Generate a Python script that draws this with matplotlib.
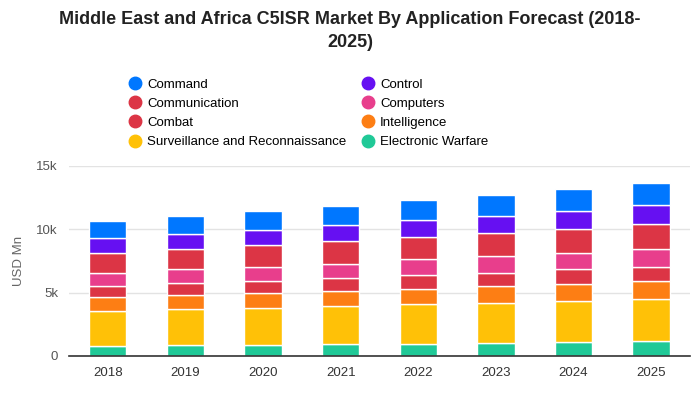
import matplotlib
matplotlib.use('Agg')
import matplotlib.pyplot as plt
from matplotlib.lines import Line2D
import numpy as np

plt.rcParams['font.family'] = ['Liberation Sans', 'DejaVu Sans']

years = ['2018', '2019', '2020', '2021', '2022', '2023', '2024', '2025']

# values in USD Mn, stacked from bottom to top
electronic_warfare = [790, 870, 870, 950, 950, 1030, 1110, 1190]
surveillance = [2780, 2860, 2940, 3020, 3180, 3180, 3260, 3330]
intelligence = [1110, 1110, 1190, 1190, 1190, 1350, 1340, 1430]
combat = [880, 950, 950, 1030, 1110, 1030, 1120, 1110]
computers = [1030, 1040, 1110, 1110, 1190, 1270, 1340, 1350]
communication = [1510, 1580, 1670, 1750, 1750, 1820, 1830, 1990]
control = [1190, 1190, 1190, 1270, 1340, 1350, 1430, 1500]
command = [1370, 1460, 1540, 1530, 1620, 1690, 1770, 1780]

series = [
    ('Electronic Warfare', electronic_warfare, '#20C997'),
    ('Surveillance and Reconnaissance', surveillance, '#FFC107'),
    ('Intelligence', intelligence, '#FD7E14'),
    ('Combat', combat, '#DC3545'),
    ('Computers', computers, '#E83E8C'),
    ('Communication', communication, '#DC3545'),
    ('Control', control, '#6610F2'),
    ('Command', command, '#0077FF'),
]

fig = plt.figure(figsize=(7, 4), dpi=100)
ax = fig.add_axes([0.0986, 0.11, 0.887, 0.475])

x = np.arange(len(years))
bottom = np.zeros(len(years))
colors = {}
for name, vals, col in series:
    ax.bar(x, vals, bottom=bottom, width=0.48, color=col, edgecolor='white', linewidth=1, zorder=3)
    bottom += np.array(vals)
    colors[name] = col

ax.set_xlim(-0.5, 7.5)
ax.set_ylim(0, 15000)
ax.set_xticks(x)
ax.set_xticklabels(years, fontsize=9.5, color='#333333')
ax.set_yticks([0, 5000, 10000, 15000])
ax.set_yticklabels(['0', '5k', '10k', '15k'], fontsize=9.5, color='#555555')
ax.tick_params(length=0, pad=8)
ax.grid(axis='y', color='#e3e3e3', linewidth=1, zorder=0)
for s in ['top', 'right', 'left']:
    ax.spines[s].set_visible(False)
ax.spines['bottom'].set_color('#333333')
ax.spines['bottom'].set_linewidth(1.2)
ax.spines['bottom'].set_zorder(4)
ax.set_ylabel('USD Mn', fontsize=9.5, color='#666666', labelpad=8)

fig.suptitle('Middle East and Africa C5ISR Market By Application Forecast (2018-\n2025)',
             fontsize=13, fontweight='bold', color='#222222', y=0.972, linespacing=1.45)

order = ['Command', 'Communication', 'Combat', 'Surveillance and Reconnaissance',
         'Control', 'Computers', 'Intelligence', 'Electronic Warfare']
handles = [Line2D([], [], marker='o', linestyle='', markersize=9, color=colors[n]) for n in order]
fig.legend(handles, order, loc='upper left', bbox_to_anchor=(0.172, 0.82), ncol=2,
           frameon=False, fontsize=9.5, handletextpad=0.35, columnspacing=0.98,
           labelspacing=0.52, handlelength=1.2, borderpad=0)

fig.savefig('out.png', dpi=100)
